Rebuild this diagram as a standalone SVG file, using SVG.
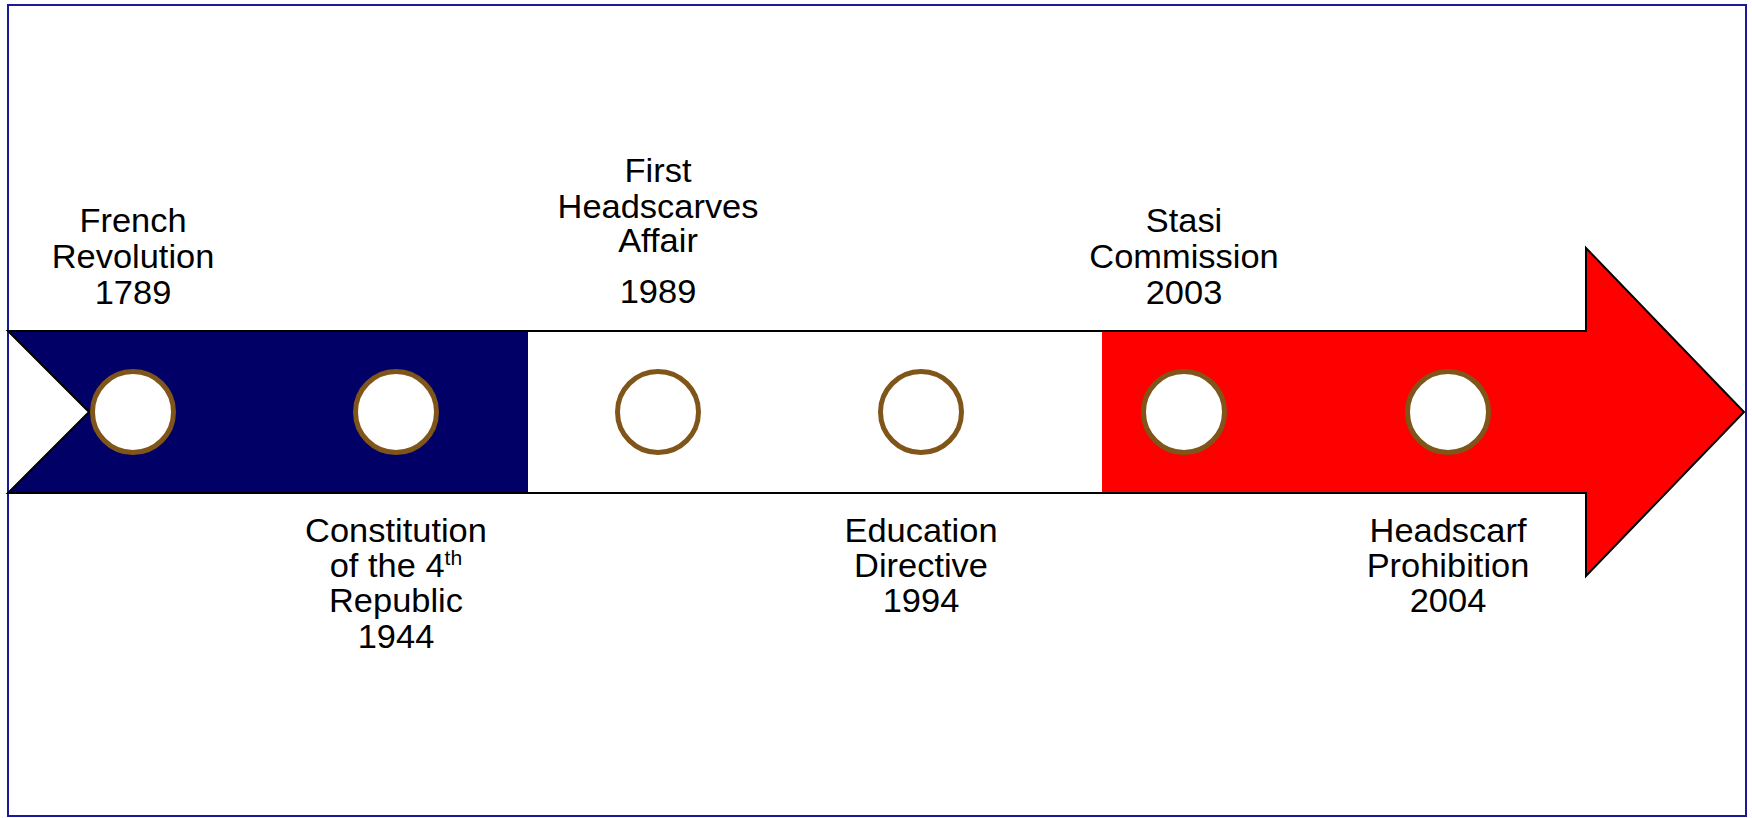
<svg xmlns="http://www.w3.org/2000/svg" width="1752" height="818" viewBox="0 0 1752 818">
<style>
.lbl{font-family:"Liberation Sans",Arial,sans-serif;font-size:32.5px;fill:#000;text-anchor:middle}
.dot{fill:#fff;stroke:#7F5519;stroke-width:5}
</style>
<defs>
<clipPath id="arrowClip"><path d="M8,331 L1586,331 L1586,248 L1744,412 L1586,576 L1586,493 L8,493 L89,412 Z"/></clipPath>
</defs>
<rect x="0" y="0" width="1752" height="818" fill="#fff"/>
<rect x="8" y="5" width="1738" height="811" fill="#fff" stroke="#1a1a99" stroke-width="2"/>
<g id="arrow">
<g clip-path="url(#arrowClip)">
<rect x="0" y="240" width="528" height="340" fill="#000066"/>
<rect x="528" y="240" width="574" height="340" fill="#fff"/>
<rect x="1102" y="240" width="650" height="340" fill="#FF0000"/>
</g>
<path d="M8,331 L1586,331 L1586,248 L1744,412 L1586,576 L1586,493 L8,493 L89,412 Z" fill="none" stroke="#000" stroke-width="2" stroke-linejoin="miter"/>
</g>
<g id="connectors"></g>
<g id="n1789"><circle class="dot" cx="133" cy="412" r="40.5"/>
<g transform="matrix(1.06,0,0,1,-7.98,0)"><text class="lbl" x="133" y="232">French</text><text class="lbl" x="133" y="268">Revolution</text><text class="lbl" x="133" y="304">1789</text></g></g>
<g id="n1944"><circle class="dot" cx="396" cy="412" r="40.5"/>
<g transform="matrix(1.06,0,0,1,-23.76,0)"><text class="lbl" x="396" y="542">Constitution</text><text class="lbl" x="396" y="577">of the 4<tspan font-size="20" dy="-12">th</tspan></text><text class="lbl" x="396" y="612">Republic</text><text class="lbl" x="396" y="648">1944</text></g></g>
<g id="n1989"><circle class="dot" cx="658" cy="412" r="40.5"/>
<g transform="matrix(1.06,0,0,1,-39.48,0)"><text class="lbl" x="658" y="182">First</text><text class="lbl" x="658" y="218">Headscarves</text><text class="lbl" x="658" y="252">Affair</text><text class="lbl" x="658" y="303">1989</text></g></g>
<g id="n1994"><circle class="dot" cx="921" cy="412" r="40.5"/>
<g transform="matrix(1.06,0,0,1,-55.26,0)"><text class="lbl" x="921" y="542">Education</text><text class="lbl" x="921" y="577">Directive</text><text class="lbl" x="921" y="612">1994</text></g></g>
<g id="n2003"><circle class="dot" cx="1184" cy="412" r="40.5"/>
<g transform="matrix(1.06,0,0,1,-71.04,0)"><text class="lbl" x="1184" y="232">Stasi</text><text class="lbl" x="1184" y="268">Commission</text><text class="lbl" x="1184" y="304">2003</text></g></g>
<g id="n2004"><circle class="dot" cx="1448" cy="412" r="40.5"/>
<g transform="matrix(1.06,0,0,1,-86.88,0)"><text class="lbl" x="1448" y="542">Headscarf</text><text class="lbl" x="1448" y="577">Prohibition</text><text class="lbl" x="1448" y="612">2004</text></g></g>
</svg>
